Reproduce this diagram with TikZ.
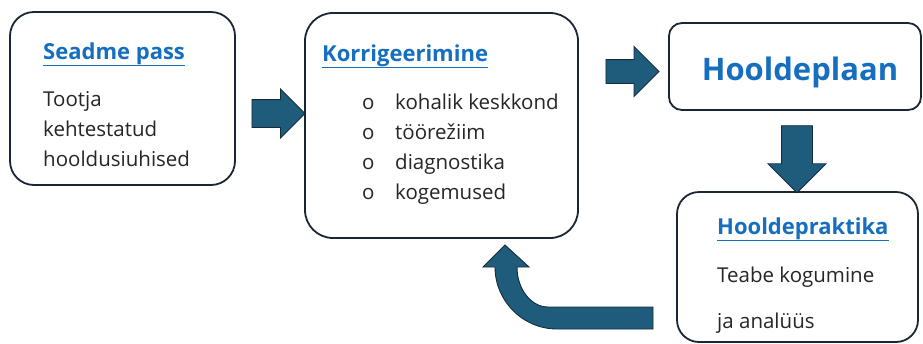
\documentclass[tikz,border=0pt]{standalone}
\usepackage{fontspec}
\setmainfont{Open Sans}
\usetikzlibrary{shapes.arrows}
\definecolor{arrowfill}{RGB}{31,92,124}
\definecolor{arrowline}{RGB}{20,45,62}
\definecolor{boxline}{RGB}{26,38,52}
\definecolor{titleblue}{RGB}{22,110,190}
\newcommand{\Title}[1]{\textcolor{titleblue}{\bfseries\underline{#1}}}
\tikzset{
  card/.style={draw=boxline, line width=1.8pt, fill=white, inner sep=0pt},
  txt/.style={anchor=base west, inner sep=0pt, font=\fontsize{20.5}{22}\selectfont, text=black!85},
  head/.style={txt, font=\fontsize{22}{24}\selectfont},
  blockarrow/.style={single arrow, draw=arrowline, fill=arrowfill, line width=0.9pt,
    inner xsep=0pt, single arrow tip angle=90}
}
\begin{document}
\begin{tikzpicture}[x=1pt, y=-1pt]
  \useasboundingbox (0,0) rectangle (923,343);
  \clip (0,0) rectangle (923,343);

  % boxes
  \node[card, rounded corners=24pt, minimum width=225pt, minimum height=173pt] (pass) at (122.5,98.5) {};
  \node[card, rounded corners=28pt, minimum width=273pt, minimum height=225pt] (korr) at (441.5,125.5) {};
  \node[card, rounded corners=13pt, minimum width=252pt, minimum height=87pt] (plaan) at (795,66.5) {};
  \node[card, rounded corners=22pt, minimum width=241pt, minimum height=150pt] (praktika) at (797.5,267) {};

  % Seadme pass
  \node[head] (passT) at (43,59) {\Title{Seadme pass}};
  \node[txt] (pass1) at (43,106) {Tootja};
  \node[txt] (pass2) at (43,136) {kehtestatud};
  \node[txt] (pass3) at (43,166) {hooldusiuhised};

  % Korrigeerimine
  \node[head] (korrT) at (322,61) {\Title{Korrigeerimine}};
  \foreach \t [count=\i] in {kohalik keskkond, töörežiim, diagnostika, kogemused}{
    \node[txt] (korrB\i) at (362,79+30*\i) {o};
    \node[txt] (korr\i) at (395,79+30*\i) {\t};
  }

  % Hooldeplaan
  \node[anchor=base, inner sep=0pt, font=\fontsize{31}{34}\selectfont\bfseries, text=titleblue] (plaanT) at (800,80) {Hooldeplaan};

  % Hooldepraktika
  \node[head] (praktikaT) at (717,234) {\Title{Hooldepraktika}};
  \node[txt] (praktika1) at (717,282) {Teabe kogumine};
  \node[txt] (praktika2) at (717,328) {ja analüüs};

  % arrows
  \node[blockarrow, minimum height=53pt, inner ysep=13.5pt, single arrow head extend=10.5pt] (a1) at (271.5,113.5) {};
  \node[blockarrow, minimum height=53pt, inner ysep=11.5pt, single arrow head extend=13pt] (a2) at (626.5,71.5) {};
  \node[blockarrow, minimum height=67pt, inner ysep=15pt, single arrow head extend=13.5pt, rotate=-90] (a3) at (797,151.5) {};

  % curved arrow back to Korrigeerimine
  \filldraw[fill=arrowfill, draw=arrowline, line width=0.9pt, line join=miter]
    (653,329) -- (557,329) .. controls (523,329) and (495,301) .. (495,267)
    -- (483,267) -- (505,245) -- (529,267) -- (517,267)
    .. controls (517,289) and (531,307) .. (548,307) -- (653,307) -- cycle;
\end{tikzpicture}
\end{document}
